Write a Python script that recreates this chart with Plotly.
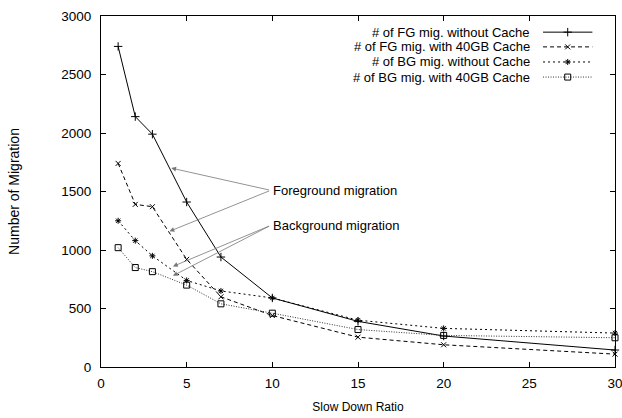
import plotly.graph_objects as go

# ---- data ----
slowdown = [1, 2, 3, 5, 7, 10, 15, 20, 30]
fg_no_cache = [2740, 2140, 1990, 1410, 940, 590, 390, 265, 145]
fg_cache40 = [1740, 1390, 1370, 920, 600, 440, 255, 190, 110]
bg_no_cache = [1250, 1080, 950, 740, 650, 590, 400, 330, 290]
bg_cache40 = [1020, 850, 815, 700, 540, 460, 320, 270, 250]

series_names = [
    "# of FG mig. without Cache",
    "# of FG mig. with 40GB Cache",
    "# of BG mig. without Cache",
    "# of BG mig. with 40GB Cache",
]
series_values = [fg_no_cache, fg_cache40, bg_no_cache, bg_cache40]
x_ticks = [0, 5, 10, 15, 20, 25, 30]
y_ticks = [0, 500, 1000, 1500, 2000, 2500, 3000]

# annotation targets (arrow heads) in data units
fg_arrows = [(4.1, 1700), (4.0, 1160)]
bg_arrows = [(4.2, 860), (4.2, 780)]
fg_label = ("Foreground migration", 9.9, 1510)
bg_label = ("Background migration", 9.9, 1210)

FONT = "Liberation Sans, Arial, sans-serif"
styles = [
    dict(dash="solid", symbol="cross-thin", size=6, color="black"),
    dict(dash="4px,3px", symbol="x-thin", size=5, color="black"),
    dict(dash="2px,3px", symbol="asterisk", size=5, color="black"),
    dict(dash="1px,1.5px", symbol="square-open", size=6, color="#333333"),
]

fig = go.Figure()
for name, vals, st in zip(series_names, series_values, styles):
    fig.add_trace(go.Scatter(
        x=slowdown, y=vals, mode="lines+markers", name=name,
        line=dict(color=st["color"], width=1, dash=st["dash"]),
        marker=dict(symbol=st["symbol"], size=st["size"], color="black",
                    line=dict(color="black", width=1)),
        showlegend=False, cliponaxis=False,
    ))

# custom gnuplot-style legend (text right, sample on right)
legend_rows = [0.954, 0.912, 0.869, 0.826]
for name, st, ry in zip(series_names, styles, legend_rows):
    fig.add_trace(go.Scatter(
        x=[0.86, 0.908, 0.956], y=[ry, ry, ry], xaxis="x2", yaxis="y2",
        mode="lines", line=dict(color=st["color"], width=1, dash=st["dash"]),
        showlegend=False, hoverinfo="skip",
    ))
    fig.add_trace(go.Scatter(
        x=[0.908], y=[ry], xaxis="x2", yaxis="y2", mode="markers",
        marker=dict(symbol=st["symbol"], size=st["size"], color="black",
                    line=dict(color="black", width=1)),
        showlegend=False, hoverinfo="skip",
    ))
    fig.add_annotation(x=0.838, y=ry, xref="x2", yref="y2", text=name,
                       showarrow=False, xanchor="right", yanchor="middle",
                       font=dict(family=FONT, size=13, color="black"))

# arrows + labels
for (label, lx, ly), arrows in [(fg_label, fg_arrows), (bg_label, bg_arrows)]:
    for ax_, ay_ in arrows:
        fig.add_annotation(x=ax_, y=ay_, ax=lx, ay=ly, xref="x", yref="y",
                           axref="x", ayref="y", text="", showarrow=True,
                           arrowhead=2, arrowsize=1.2, arrowwidth=0.8,
                           arrowcolor="#777777")
    fig.add_annotation(x=lx, y=ly, xref="x", yref="y", text=label,
                       showarrow=False, xanchor="left", yanchor="middle",
                       font=dict(family=FONT, size=13, color="black"))

axis_common = dict(
    showline=True, linecolor="black", linewidth=1.2, mirror="ticks",
    ticks="inside", ticklen=5, tickcolor="black", tickwidth=1,
    showgrid=False, zeroline=False, ticklabeloverflow="allow",
    automargin=False,
    tickfont=dict(family=FONT, size=13.5, color="black"),
)
fig.update_layout(
    width=622, height=418,
    margin=dict(l=101, r=7, t=16, b=51),
    paper_bgcolor="white", plot_bgcolor="white",
    font=dict(family=FONT, size=13, color="black"),
    xaxis=dict(range=[0, 30], tickvals=x_ticks, ticklabelstandoff=4,
               title=dict(text="Slow Down Ratio", standoff=12,
                          font=dict(family=FONT, size=12)), **axis_common),
    yaxis=dict(range=[0, 3000], tickvals=y_ticks, ticklabelstandoff=6,
               title=dict(text="Number of Migration", standoff=38,
                          font=dict(family=FONT, size=14)), **axis_common),
    xaxis2=dict(range=[0, 1], overlaying="x", visible=False, fixedrange=True),
    yaxis2=dict(range=[0, 1], overlaying="y", visible=False, fixedrange=True),
)
fig.write_html("out.html")
